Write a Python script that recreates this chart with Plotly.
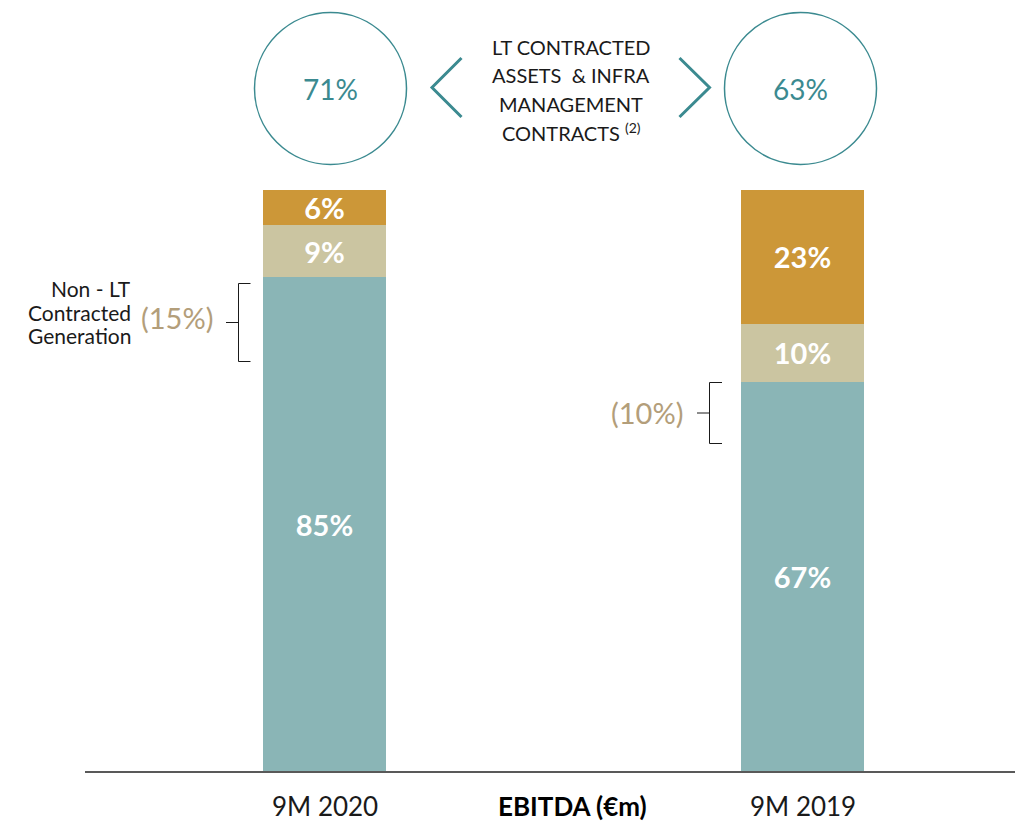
import plotly.graph_objects as go

# ---------------- data ----------------
categories = ["9M 2020", "9M 2019"]
lt_contracted = [85, 67]      # teal segment
other_mid = [9, 10]           # beige segment
other_top = [6, 23]           # gold segment
lt_share = ["71%", "63%"]     # circle values
non_lt_share = ["(15%)", "(10%)"]
axis_title = "EBITDA (€m)"
center_caption = ["LT CONTRACTED", "ASSETS  & INFRA", "MANAGEMENT", "CONTRACTS <sup>(2)</sup>"]
left_caption = ["Non - LT", "Contracted", "Generation"]

# ---------------- styling ----------------
TEAL = "#8AB5B6"
BEIGE = "#CBC5A1"
GOLD = "#CC9738"
DARK_TEAL = "#3B8A90"
TAN = "#B39E7A"
FONT = "Lato"

W, H = 1015, 821
ML, MR, MT, MB = 85, 0, 0, 50
PW, PH = W - ML - MR, H - MT - MB

# pixel -> data mapping helpers (bars at x=0 and x=1)
X0_PX, X_SCALE = 324.5, 478.0
BASE_PX, Y_SCALE = 771.0, 5.81
xpos = [0, 1]
x_range = [(ML - X0_PX) / X_SCALE, (W - MR - X0_PX) / X_SCALE]
y_range = [0, (BASE_PX - MT) / Y_SCALE]


def dx(px):
    return (px - X0_PX) / X_SCALE


def dy(py):
    return (BASE_PX - py) / Y_SCALE


def px_(px):
    return (px - ML) / PW


def py_(py):
    return (H - MB - py) / PH


fig = go.Figure()
for vals, col in [(lt_contracted, TEAL), (other_mid, BEIGE), (other_top, GOLD)]:
    fig.add_trace(go.Bar(
        x=xpos, y=vals, width=123 / X_SCALE,
        marker=dict(color=col, line=dict(width=0)),
        texttemplate="%{y}%", textposition="inside", insidetextanchor="middle",
        constraintext="none",
        textfont=dict(family=FONT, size=29, color="white", weight="bold"),
        showlegend=False, hoverinfo="skip",
    ))

shapes = []
# circles
for cx in (330.5, 800.5):
    shapes.append(dict(type="circle", xref="x", yref="y",
                       x0=dx(cx - 76), x1=dx(cx + 76), y0=dy(12.5 + 152), y1=dy(12.5),
                       line=dict(color=DARK_TEAL, width=1.5)))
# chevrons
shapes.append(dict(type="path", xref="x", yref="y",
                   path=f"M {dx(461.5)} {dy(58)} L {dx(432)} {dy(87.5)} L {dx(461.5)} {dy(117)}",
                   line=dict(color=DARK_TEAL, width=3)))
shapes.append(dict(type="path", xref="x", yref="y",
                   path=f"M {dx(679.5)} {dy(58)} L {dx(709.5)} {dy(87.5)} L {dx(679.5)} {dy(117)}",
                   line=dict(color=DARK_TEAL, width=3)))
# brackets
for (vx, top, bot, tip_r, mid_l, mid_y) in [(238.5, 283.5, 361.5, 250.5, 226, 322.5),
                                            (709.5, 382.5, 443.5, 722, 697, 413)]:
    shapes.append(dict(type="path", xref="x", yref="y",
                       path=(f"M {dx(tip_r)} {dy(top)} L {dx(vx)} {dy(top)} L {dx(vx)} {dy(bot)} "
                             f"L {dx(tip_r)} {dy(bot)} M {dx(mid_l)} {dy(mid_y)} L {dx(vx)} {dy(mid_y)}"),
                       line=dict(color="#1a1a1a", width=1)))

annotations = []
# circle values
for cx, t in zip((330.5, 800.5), lt_share):
    annotations.append(dict(xref="paper", yref="paper", x=px_(cx), y=py_(89),
                            text=t, showarrow=False, xanchor="center", yanchor="middle",
                            font=dict(family=FONT, size=28, color=DARK_TEAL)))
# center caption (one annotation per line)
for line, ly in zip(center_caption, (46.7, 75.5, 104, 132)):
    annotations.append(dict(xref="paper", yref="paper", x=px_(571), y=py_(ly),
                            text=line, showarrow=False, xanchor="center", yanchor="middle",
                            font=dict(family=FONT, size=20, color="#1a1a1a")))
# left caption
for line, ly in zip(left_caption, (288.5, 312, 335.5)):
    annotations.append(dict(xref="paper", yref="paper", x=px_(133), y=py_(ly),
                            text=line, showarrow=False, xanchor="right", yanchor="middle",
                            height=23,
                            font=dict(family=FONT, size=21, color="#1a1a1a")))
# non-LT shares
for (rx, cy), t in zip(((215, 317), (685, 412)), non_lt_share):
    annotations.append(dict(xref="paper", yref="paper", x=px_(rx), y=py_(cy),
                            text=t, showarrow=False, xanchor="right", yanchor="middle",
                            font=dict(family=FONT, size=29, color=TAN)))
# category labels
for xv, c in zip(xpos, categories):
    annotations.append(dict(xref="x", yref="paper", x=xv, y=py_(806),
                            text=c, showarrow=False, xanchor="center", yanchor="middle",
                            font=dict(family=FONT, size=26, color="#1a1a1a")))
annotations.append(dict(xref="paper", yref="paper", x=px_(572), y=py_(806),
                        text=f"<b>{axis_title}</b>", showarrow=False, xanchor="center",
                        yanchor="middle", font=dict(family=FONT, size=26, color="#000000")))

fig.update_layout(
    width=W, height=H, barmode="stack",
    margin=dict(l=ML, r=MR, t=MT, b=MB),
    paper_bgcolor="white", plot_bgcolor="white",
    xaxis=dict(range=x_range, showline=True, linecolor="#595959", linewidth=1.5,
               showticklabels=False, showgrid=False, zeroline=False, ticks=""),
    yaxis=dict(range=y_range, visible=False, showgrid=False, zeroline=False),
    shapes=shapes, annotations=annotations,
)

fig.write_html("out.html", config={"displayModeBar": False},
               post_script="document.body.style.margin='0';document.body.style.overflow='hidden';")
